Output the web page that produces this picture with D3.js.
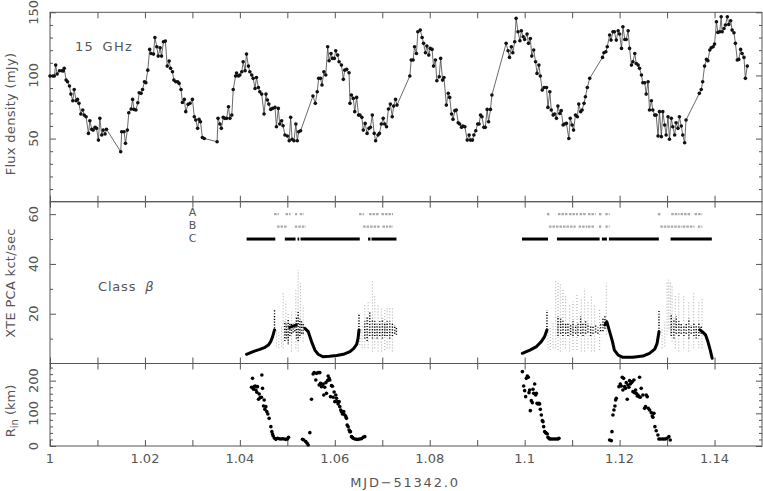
<!DOCTYPE html>
<html><head><meta charset="utf-8">
<script src="https://cdn.jsdelivr.net/npm/d3@7/dist/d3.min.js"></script>
<style>body{margin:0;background:#fff}text{font-family:"DejaVu Sans",sans-serif;fill:#555}</style>
</head><body><svg id="c" width="763" height="491"></svg>
<script>
// ---------------- data ----------------
const xTickValues=[1,1.01,1.02,1.03,1.04,1.05,1.06,1.07,1.08,1.09,1.1,1.11,1.12,1.13,1.14];
const xLabelValues=[1,1.02,1.04,1.06,1.08,1.1,1.12,1.14];
const xLabels=["1","1.02","1.04","1.06","1.08","1.1","1.12","1.14"];

const fluxMinor=[10,20,30,40,60,70,80,90,110,120,130,140];
const fluxMajor=[50,100,150];
const pcaMinor=[10,30,50];
const pcaMajor=[20,40,60];
const rinMinor=[20,40,60,80,120,140,160,180,220,240];
const rinMajor=[0,100,200];

const flux=[[1.0000,99.5],[1.0006,99.5],[1.0009,99.5],[1.0012,108.2],[1.0015,101.1],[1.0020,103.7],[1.0025,103.7],[1.0028,103.5],[1.0030,105.6],[1.0034,96.3],[1.0037,95.0],[1.0041,91.6],[1.0044,85.2],[1.0048,80.0],[1.0051,88.9],[1.0055,80.0],[1.0058,81.0],[1.0061,77.9],[1.0065,69.4],[1.0069,72.6],[1.0072,68.6],[1.0076,67.3],[1.0081,54.1],[1.0084,64.1],[1.0088,57.3],[1.0091,56.7],[1.0095,58.9],[1.0098,58.1],[1.0102,48.8],[1.0105,66.0],[1.0109,52.8],[1.0112,56.7],[1.0116,53.6],[1.0119,57.3],[1.0149,39.6],[1.0151,55.4],[1.0156,55.4],[1.0159,46.2],[1.0163,56.7],[1.0166,70.5],[1.0171,73.4],[1.0174,81.0],[1.0177,73.1],[1.0181,72.6],[1.0185,78.4],[1.0188,86.3],[1.0192,85.8],[1.0195,88.9],[1.0199,95.0],[1.0202,94.2],[1.0206,104.2],[1.0210,120.6],[1.0213,117.4],[1.0218,116.9],[1.0221,130.1],[1.0225,122.7],[1.0228,115.3],[1.0232,121.9],[1.0235,115.3],[1.0239,126.7],[1.0243,127.2],[1.0247,107.4],[1.0251,111.4],[1.0254,105.6],[1.0258,102.9],[1.0261,96.3],[1.0265,95.0],[1.0269,95.0],[1.0272,93.7],[1.0276,88.9],[1.0279,78.6],[1.0283,81.0],[1.0286,71.3],[1.0291,77.1],[1.0295,77.9],[1.0300,81.0],[1.0304,67.3],[1.0307,64.7],[1.0311,58.1],[1.0314,65.2],[1.0317,63.3],[1.0321,50.9],[1.0325,50.1],[1.0352,47.5],[1.0354,66.0],[1.0358,61.5],[1.0361,58.1],[1.0365,66.8],[1.0368,66.0],[1.0372,66.0],[1.0376,75.2],[1.0379,66.0],[1.0383,68.6],[1.0386,88.9],[1.0391,99.5],[1.0393,101.9],[1.0397,99.5],[1.0400,100.3],[1.0404,102.9],[1.0407,110.8],[1.0411,103.7],[1.0414,116.9],[1.0418,107.4],[1.0421,102.9],
[1.0425,100.3],[1.0428,97.7],[1.0432,89.7],[1.0435,98.4],[1.0439,90.5],[1.0442,87.1],[1.0446,85.2],[1.0451,69.4],[1.0455,85.2],[1.0458,80.5],[1.0461,77.3],[1.0465,73.1],[1.0469,73.9],[1.0474,74.7],[1.0477,59.4],[1.0481,73.9],[1.0484,61.5],[1.0488,64.1],[1.0491,60.1],[1.0495,52.8],[1.0500,52.0],[1.0504,48.3],[1.0507,66.8],[1.0510,49.4],[1.0514,48.3],[1.0518,61.5],[1.0521,48.3],[1.0524,55.4],[1.0528,56.2],
[1.0554,83.7],[1.0559,77.9],[1.0563,87.1],[1.0566,97.7],[1.0570,97.7],[1.0573,92.4],[1.0577,102.9],[1.0581,100.3],[1.0585,122.7],[1.0588,111.6],[1.0592,117.4],[1.0595,113.5],[1.0599,113.5],[1.0602,119.6],[1.0606,116.1],[1.0609,110.8],[1.0614,108.2],[1.0618,96.9],[1.0621,104.2],[1.0625,104.8],[1.0630,102.1],[1.0632,77.9],[1.0635,84.5],[1.0639,81.8],[1.0642,71.3],[1.0646,82.6],[1.0650,68.6],[1.0653,68.6],[1.0657,66.8],[1.0660,56.7],[1.0664,62.0],[1.0668,54.1],[1.0672,58.1],[1.0675,58.9],[1.0679,68.6],[1.0683,54.1],[1.0686,48.3],[1.0691,52.8],[1.0694,54.1],[1.0698,61.5],[1.0702,66.0],[1.0705,61.5],[1.0709,59.4],[1.0713,73.4],[1.0717,77.3],[1.0721,67.3],[1.0724,75.7],[1.0728,81.0],[1.0731,76.5],
[1.0758,99.5],[1.0761,112.2],[1.0765,112.2],[1.0768,122.7],[1.0772,117.4],[1.0775,134.6],[1.0780,135.9],[1.0784,130.1],[1.0787,125.4],[1.0791,118.0],[1.0794,123.3],[1.0798,116.1],[1.0801,121.4],[1.0805,120.6],[1.0808,107.4],[1.0812,112.2],[1.0815,95.8],[1.0820,99.0],[1.0823,113.5],[1.0827,96.3],[1.0830,98.4],[1.0835,76.5],[1.0839,85.8],[1.0842,82.6],[1.0846,69.4],[1.0849,65.2],[1.0853,72.1],[1.0856,72.6],[1.0860,62.5],[1.0863,61.5],[1.0867,58.9],[1.0870,59.9],[1.0874,59.4],[1.0879,48.8],[1.0883,52.8],[1.0886,48.8],[1.0890,48.8],[1.0893,52.8],[1.0897,56.2],[1.0901,61.5],[1.0904,61.5],[1.0907,68.6],[1.0910,67.3],[1.0914,58.9],[1.0917,58.9],[1.0921,73.1],[1.0924,63.3],[1.0928,73.1],[1.0931,84.5],
[1.0961,125.4],[1.0965,119.6],[1.0968,114.3],[1.0972,122.7],[1.0975,118.0],[1.0979,126.7],[1.0982,145.2],[1.0986,134.6],[1.0990,127.5],[1.0993,135.4],[1.0997,130.6],[1.1000,128.5],[1.1005,132.8],[1.1008,125.4],[1.1012,129.3],[1.1015,115.3],[1.1019,120.1],[1.1023,110.8],[1.1026,101.6],[1.1030,108.2],[1.1033,99.5],[1.1037,88.4],[1.1041,90.5],[1.1046,90.5],[1.1049,74.7],[1.1053,87.1],[1.1056,72.6],[1.1060,68.6],[1.1063,69.4],[1.1067,66.0],[1.1070,75.7],[1.1074,69.9],[1.1077,72.1],[1.1081,60.7],[1.1084,61.5],[1.1088,62.0],[1.1093,50.1],[1.1096,66.0],[1.1100,60.7],[1.1103,56.7],[1.1107,68.6],[1.1111,67.3],[1.1114,77.3],[1.1118,71.3],[1.1121,72.6],[1.1125,77.9],[1.1128,83.1],[1.1132,90.5],[1.1137,97.7],
[1.1164,114.3],[1.1167,118.0],[1.1171,118.8],[1.1174,122.7],[1.1179,132.0],[1.1182,128.0],[1.1186,134.6],[1.1189,134.6],[1.1193,128.0],[1.1197,135.4],[1.1200,132.8],[1.1204,121.4],[1.1207,138.6],[1.1211,128.5],[1.1214,128.5],[1.1218,135.4],[1.1221,121.4],[1.1225,108.2],[1.1228,110.8],[1.1232,117.4],[1.1235,109.5],[1.1239,108.2],[1.1242,105.6],[1.1246,100.3],[1.1249,94.2],[1.1253,94.2],[1.1256,85.2],[1.1260,95.0],[1.1263,72.6],[1.1267,80.0],[1.1270,72.6],[1.1274,68.6],[1.1277,68.6],[1.1281,52.0],[1.1284,71.3],[1.1288,51.5],[1.1291,71.3],[1.1295,60.7],[1.1298,52.8],[1.1302,67.3],[1.1305,49.4],[1.1309,66.0],[1.1312,59.4],[1.1316,52.8],[1.1319,62.5],[1.1323,58.1],[1.1326,67.3],[1.1330,59.9],[1.1333,52.8],[1.1337,46.7],[1.1340,64.7],
[1.1368,85.8],[1.1372,88.9],[1.1375,95.0],[1.1379,107.4],[1.1383,112.7],[1.1386,111.6],[1.1390,120.1],[1.1393,121.9],[1.1397,122.7],[1.1400,124.8],[1.1404,142.5],[1.1407,134.1],[1.1411,134.6],[1.1414,146.5],[1.1416,134.6],[1.1420,137.2],[1.1423,139.9],[1.1427,146.5],[1.1430,140.4],[1.1434,143.3],[1.1437,135.9],[1.1441,133.8],[1.1444,125.4],[1.1448,112.2],[1.1451,112.7],[1.1455,120.6],[1.1458,117.4],[1.1462,114.3],[1.1465,97.7],[1.1469,107.4]];

// XTE PCA: dense black bands [MJD, kct/s]
const pcaBands=[
 [[1.0414,3.7],[1.0428,4.8],[1.0442,5.7],[1.0453,6.5],[1.0460,7.4],[1.0465,8.8],[1.0469,10.8],[1.0473,13.5]],
 [[1.0505,14.5],[1.0512,15.0],[1.0519,15.5]],
 [[1.0537,14.1],[1.0544,12.8],[1.0551,8.8],[1.0558,5.4],[1.0565,3.7],[1.0575,2.7],[1.0589,2.9],[1.0604,3.2],[1.0618,3.7],[1.0632,4.8],[1.0640,6.1],[1.0646,7.7],[1.0649,10.1],[1.0651,13.5]],
 [[1.0995,4.1],[1.1011,5.4],[1.1025,6.8],[1.1035,8.8],[1.1042,10.8],[1.1047,13.5]],
 [[1.1169,15.5],[1.1173,16.8],[1.1179,12.8],[1.1185,8.8],[1.1189,5.4],[1.1197,3.4],[1.1207,2.5],[1.1228,2.5],[1.1249,3.0],[1.1263,4.1],[1.1274,5.8],[1.1279,8.1],[1.1283,12.8]],
 [[1.1369,13.5],[1.1374,12.8],[1.1381,11.5],[1.1386,8.8],[1.1391,5.4],[1.1395,2.1]]
];
// black scattered columns [MJD, low, high]
const pcaBlackCols=[
 [1.0473,13,22],[1.04947,9,17],[1.04982,10,16],[1.05018,8,18],[1.05053,11,16],[1.05088,12,16],[1.05123,12.5,16],[1.05158,13,16.5],[1.05193,10,19],[1.05228,9,21],[1.05263,11,18],[1.05298,12,17],[1.05333,12,16.5],
 [1.0651,13.5,20.2],[1.06632,10,17],[1.06681,9,19],[1.06737,11,21],[1.06793,10,18],[1.06842,11,17],[1.06891,10,16],[1.06947,11,17],[1.07004,10,18],[1.07053,11,16],[1.07102,11,17],[1.07158,10,17],[1.07214,11,16],[1.07263,12,15.5],[1.07298,11.5,14.5],
 [1.1047,13.5,21.5],[1.10702,11,19],[1.10758,12,18],[1.10807,11,17],[1.10863,12,16.5],[1.10912,11,16],[1.10968,11.5,15.5],[1.11018,11,17],[1.11074,12,15.5],[1.11123,11,16.5],[1.11179,12,19],[1.11228,11,16],[1.11284,12,17],[1.11333,12.5,16],[1.11389,11,15.5],[1.11439,12,15],[1.11495,12.5,15.5],[1.11544,12,14.5],[1.116,13,16],[1.11649,13,18],[1.11691,14,19],
 [1.1283,12.8,21.1],[1.13088,11,20],[1.13144,10,18],[1.13193,12,19],[1.13249,11,17],[1.13298,12,16.5],[1.13354,11,15],[1.13404,12,16],[1.1346,10,18],[1.13509,12,15.5],[1.13565,11,16],[1.13614,10,15],[1.1367,11,16],[1.13719,12,15]
];
// grey scattered columns [MJD, low, high]
const pcaGreyCols=[
 [1.04772,6.8,14.1],[1.04821,6.1,12.8],[1.04877,6.8,14.8],[1.04912,6.1,28.9],[1.04968,11.5,24.9],[1.05018,7.4,20.8],[1.05088,4.8,20.8],[1.05179,6.1,29.6],[1.05228,4.8,37.6],[1.05277,10.1,32.9],[1.05333,8.8,23.5],
 [1.06526,7.4,14.1],[1.06575,6.1,15.5],[1.06632,6.1,23.5],[1.06702,6.1,24.9],[1.06793,4.8,33.6],[1.06842,6.1,27.5],[1.06912,4.8,23.5],[1.06982,4.8,22.9],[1.07053,5.4,22.2],[1.07102,6.1,22.9],[1.07158,6.1,22.9],[1.07214,4.8,22.2],
 [1.10491,6.1,14.1],[1.1054,5.4,14.8],[1.10596,6.1,16.8],[1.10653,6.1,33.6],[1.10702,5.4,32.9],[1.10751,4.8,32.2],[1.10807,7.4,30.2],[1.10863,6.1,27.5],[1.10947,4.8,23.5],[1.11018,5.4,24.9],[1.11102,5.4,27.5],[1.11193,4.8,26.2],[1.11263,4.8,30.2],[1.11333,6.1,24.9],[1.11404,4.8,27.5],[1.11474,4.8,23.5],[1.11579,5.4,22.2],[1.1172,11.5,32.2],
 [1.12895,6.1,14.1],[1.12951,6.8,16.8],[1.13,11.5,32.9],[1.13035,14.1,33.6],[1.1307,11.5,32.9],[1.13105,8.8,31.6],[1.13175,6.1,27.5],[1.13246,4.8,28.9],[1.13351,6.1,27.5],[1.13456,4.8,24.9],[1.13561,6.1,28.9],[1.13667,6.1,24.9],[1.13737,6.1,26.2]
];
// state bars [start MJD, end MJD]
const stateA=[[1.04722,1.04821],[1.04962,1.05067],[1.05164,1.05206],[1.05263,1.05347],[1.06512,1.06611],[1.06722,1.06926],[1.06983,1.07227],[1.10469,1.10541],[1.10701,1.10912],[1.10933,1.11122],[1.11158,1.11299],[1.11333,1.11495],[1.11564,1.11635],[1.11699,1.11789],[1.12806,1.12877],[1.13088,1.13263],[1.13284,1.13509],[1.13579,1.13741]];
const stateB=[[1.04785,1.04996],[1.05158,1.05389],[1.06596,1.06962],[1.07004,1.07122],[1.07143,1.07227],[1.10512,1.11074],[1.11137,1.1132],[1.11333,1.11474],[1.11564,1.11614],[1.11699,1.11789],[1.12857,1.1332],[1.13333,1.13579],[1.13648,1.13741]];
const stateC=[[1.04141,1.04747],[1.04947,1.05173],[1.05215,1.0525],[1.05278,1.06526],[1.06701,1.06751],[1.06773,1.07299],[1.09943,1.10491],[1.1068,1.11579],[1.11627,1.11733],[1.11775,1.12827],[1.13074,1.13943]];
const stateLevels={A:60,B:55,C:50};

// inner disk radius [MJD, km]
const rin=[[1.04246,179.6],[1.04267,207.1],[1.04288,173.5],[1.04302,181.6],[1.04323,183.7],[1.04337,171.4],[1.04358,164.3],[1.04372,181.6],[1.04393,142.9],[1.04407,159.2],[1.04428,148],[1.04456,149],[1.04463,217.3],[1.04477,176.5],[1.04498,122.4],[1.04512,140.8],[1.04526,112.2],[1.04547,120.4],[1.04568,105.1],[1.04589,98],[1.04617,84.7],[1.04653,59.2],[1.04674,43.9],[1.04688,36.7],[1.04702,30.6],[1.04730,23.5],[1.04758,20.4],[1.04793,23.5],[1.04828,22.4],[1.04863,21.4],[1.04898,22.4],[1.04933,21.4],[1.04968,20.4],[1.05004,21.4],[1.05025,26.5],
[1.05319,20.4],[1.05347,18.4],[1.05389,13.3],[1.05418,8.2],[1.05439,3.1],[1.05474,40.8],[1.05509,143],[1.05544,220.4],[1.05565,224.5],[1.05600,202],[1.05614,222.4],[1.05649,224.5],[1.05670,186.7],[1.05684,224.5],[1.05698,191.8],[1.05719,181.6],[1.05740,186.7],[1.05754,189.8],[1.05768,156.1],[1.05789,179.6],[1.05811,193.9],[1.05825,161.2],[1.05846,200],[1.0586,214.3],[1.05881,207.1],[1.05895,202],[1.05909,151],[1.0593,184.7],[1.05951,182.7],[1.05965,149],[1.05986,165.3],[1.06,135.7],[1.06021,156.1],[1.06035,145.9],[1.06056,135.7],[1.0607,128.6],[1.06091,135.7],[1.06105,120.4],[1.06126,110.2],[1.0614,105.1],[1.06161,98],[1.06175,100],[1.06189,105.1],[1.06211,94.9],[1.06232,89.8],[1.06246,84.7],[1.06260,64.3],[1.06281,59.2],[1.06302,49],[1.06316,43.9],[1.0633,43.9],[1.06351,28.6],[1.06372,26.5],[1.06386,23.5],[1.06421,21.4],[1.06456,20.4],[1.06491,20.4],[1.06526,21.4],[1.06561,22.4],[1.06596,26.5],[1.06632,28.6],
[1.09951,227.6],[1.09979,183.7],[1.1,169.4],[1.10021,151],[1.10035,207.1],[1.10056,214.3],[1.10077,210.2],[1.10091,163.3],[1.10105,171.4],[1.10119,108.2],[1.1014,138.8],[1.10161,132.7],[1.10175,173.5],[1.10189,161.2],[1.10211,189.8],[1.10232,156.1],[1.10246,161.2],[1.1026,130.6],[1.10281,128.6],[1.10302,130.6],[1.10316,128.6],[1.1033,112.2],[1.10351,94.9],[1.10372,77.6],[1.10386,74.5],[1.104,59.2],[1.10421,43.9],[1.10442,40.8],[1.10456,38.8],[1.10477,36.7],[1.10491,26.5],[1.10512,23.5],[1.10526,21.4],[1.10561,21.4],[1.10596,21.4],[1.10632,21.4],[1.10667,21.4],[1.10702,21.4],[1.10723,23.5],
[1.11789,18.4],[1.11825,16.3],[1.11839,43.9],[1.1186,94.9],[1.11881,110.2],[1.11902,122.4],[1.11916,140.8],[1.1193,145.9],[1.11986,181.6],[1.12014,189.8],[1.12035,183.7],[1.12056,210.2],[1.1207,171.4],[1.12084,207.1],[1.12105,181.6],[1.12126,176.5],[1.1214,193.9],[1.12161,142.9],[1.12175,186.7],[1.12196,179.6],[1.12211,200],[1.12225,189.8],[1.12246,193.9],[1.12267,196.9],[1.12281,166.3],[1.12302,202],[1.12316,163.3],[1.12337,171.4],[1.12351,161.2],[1.12372,153.1],[1.12386,156.1],[1.12407,151],[1.12421,210.2],[1.12435,149],[1.12456,176.5],[1.12491,156.1],[1.12526,115.3],[1.12547,120.4],[1.12561,156.1],[1.12582,151],[1.12604,115.3],[1.12632,110.2],[1.12667,102],[1.12688,91.8],[1.12702,87.8],[1.12723,100],[1.12744,59.2],[1.12772,46.9],[1.12807,33.7],[1.12828,21.4],[1.12856,21.4],[1.12898,21.4],[1.12933,21.4],[1.12968,21.4],[1.12996,23.5],[1.13039,28.6],[1.13067,18.4]];

// ---------------- drawing ----------------
const svg=d3.select("#c");
const x=d3.scaleLinear().domain([1,1.15]).range([50,762]);
const yFlux=d3.scaleLinear().domain([0,150]).range([201.7,12.3]);
const yPca=d3.scaleLinear().domain([0,65]).range([363.5,201.7]);
const yRin=d3.scaleLinear().domain([0,252.5]).range([446,363.5]);
const axisColor="#555";

function frame(y,minor,major){
  const [b,t]=y.range();
  const g=svg.append("g");
  g.append("rect").attr("x",50).attr("y",t).attr("width",712).attr("height",b-t)
   .attr("fill","none").attr("stroke",axisColor).attr("stroke-width",1);
  const xa1=g.append("g").attr("transform",`translate(0,${b})`).call(d3.axisTop(x).tickValues(xTickValues).tickSize(6).tickFormat(""));
  const xa2=g.append("g").attr("transform",`translate(0,${t})`).call(d3.axisBottom(x).tickValues(xTickValues).tickSize(6).tickFormat(""));
  const ya=[
    g.append("g").attr("transform","translate(50,0)").call(d3.axisRight(y).tickValues(minor).tickSize(3).tickFormat("")),
    g.append("g").attr("transform","translate(50,0)").call(d3.axisRight(y).tickValues(major).tickSize(6).tickFormat("")),
    g.append("g").attr("transform","translate(762,0)").call(d3.axisLeft(y).tickValues(minor).tickSize(3).tickFormat("")),
    g.append("g").attr("transform","translate(762,0)").call(d3.axisLeft(y).tickValues(major).tickSize(6).tickFormat(""))];
  [xa1,xa2,...ya].forEach(a=>{a.select(".domain").remove();a.selectAll("line").attr("stroke",axisColor);});
  major.forEach(v=>{
    const yy=y(v);
    svg.append("text").attr("transform",`translate(38,${yy}) rotate(-90)`).attr("text-anchor","middle")
      .attr("font-size",13).text(v);
  });
}
frame(yFlux,fluxMinor,fluxMajor);
frame(yPca,pcaMinor,pcaMajor);
frame(yRin,rinMinor,rinMajor);

// x labels
xLabelValues.forEach((v,i)=>{
  svg.append("text").attr("x",x(v)).attr("y",463).attr("text-anchor","middle").attr("font-size",13).text(xLabels[i]);
});
svg.append("text").attr("x",405).attr("y",487).attr("text-anchor","middle").attr("font-size",13)
  .attr("letter-spacing",1.8).text("MJD\u221251342.0");

// y titles
svg.append("text").attr("transform","translate(15,114) rotate(-90)").attr("text-anchor","middle").attr("font-size",13).attr("letter-spacing",0.3).text("Flux density (mJy)");
svg.append("text").attr("transform","translate(15,283) rotate(-90)").attr("text-anchor","middle").attr("font-size",13).attr("letter-spacing",0.3).text("XTE PCA kct/sec");
const rt=svg.append("text").attr("transform","translate(15,411) rotate(-90)").attr("text-anchor","middle").attr("font-size",13);
rt.append("tspan").text("R");
rt.append("tspan").attr("font-size",10).attr("dy",3).text("in");
rt.append("tspan").attr("dy",-3).text(" (km)");

// annotations
svg.append("text").attr("x",75).attr("y",51).attr("font-size",13).attr("letter-spacing",1.3).attr("word-spacing",3).text("15 GHz");
const ct=svg.append("text").attr("x",98).attr("y",291).attr("font-size",13).attr("letter-spacing",0.8);
ct.append("tspan").text("Class");
ct.append("tspan").attr("dx",9).attr("font-style","italic").text("\u03b2");
[["A",216],["B",229],["C",242]].forEach(([s,yy])=>{
  svg.append("text").attr("x",192.5).attr("y",yy).attr("text-anchor","middle").attr("font-size",11).text(s);
});

// flux density
const lineF=d3.line().x(d=>x(d[0])).y(d=>yFlux(d[1]));
svg.append("path").datum(flux).attr("d",lineF).attr("fill","none").attr("stroke","#444").attr("stroke-width",0.8);
svg.append("g").selectAll("circle").data(flux).join("circle")
  .attr("cx",d=>x(d[0])).attr("cy",d=>yFlux(d[1])).attr("r",1.8).attr("fill","#111");

// PCA grey columns
svg.append("g").selectAll("line").data(pcaGreyCols).join("line")
  .attr("x1",d=>x(d[0])).attr("x2",d=>x(d[0])).attr("y1",d=>yPca(d[1])).attr("y2",d=>yPca(d[2]))
  .attr("stroke","#b0b0b0").attr("stroke-width",1.1).attr("stroke-dasharray","1,2");
// PCA black columns
svg.append("g").selectAll("line").data(pcaBlackCols).join("line")
  .attr("x1",d=>x(d[0])).attr("x2",d=>x(d[0])).attr("y1",d=>yPca(d[1])).attr("y2",d=>yPca(d[2]))
  .attr("stroke","#000").attr("stroke-width",1.4).attr("stroke-dasharray","1.2,1.6");
// PCA bands
const lineP=d3.line().x(d=>x(d[0])).y(d=>yPca(d[1]));
svg.append("g").selectAll("path").data(pcaBands).join("path").attr("d",lineP)
  .attr("fill","none").attr("stroke","#000").attr("stroke-width",3).attr("stroke-linecap","round").attr("stroke-linejoin","round");

// state bars
function bars(data,level,color,w,dash){
  svg.append("g").selectAll("line").data(data).join("line")
   .attr("x1",d=>x(d[0])).attr("x2",d=>x(d[1])).attr("y1",yPca(level)).attr("y2",yPca(level))
   .attr("stroke",color).attr("stroke-width",w).attr("stroke-dasharray",dash);
}
bars(stateA,stateLevels.A,"#aaa",2.4,"2.5,1");
bars(stateB,stateLevels.B,"#aaa",2.4,"2.5,1");
bars(stateC,stateLevels.C,"#000",3,null);

// R_in
svg.append("g").selectAll("circle").data(rin).join("circle")
  .attr("cx",d=>x(d[0])).attr("cy",d=>yRin(d[1])).attr("r",1.8).attr("fill","#000");
</script></body></html>
